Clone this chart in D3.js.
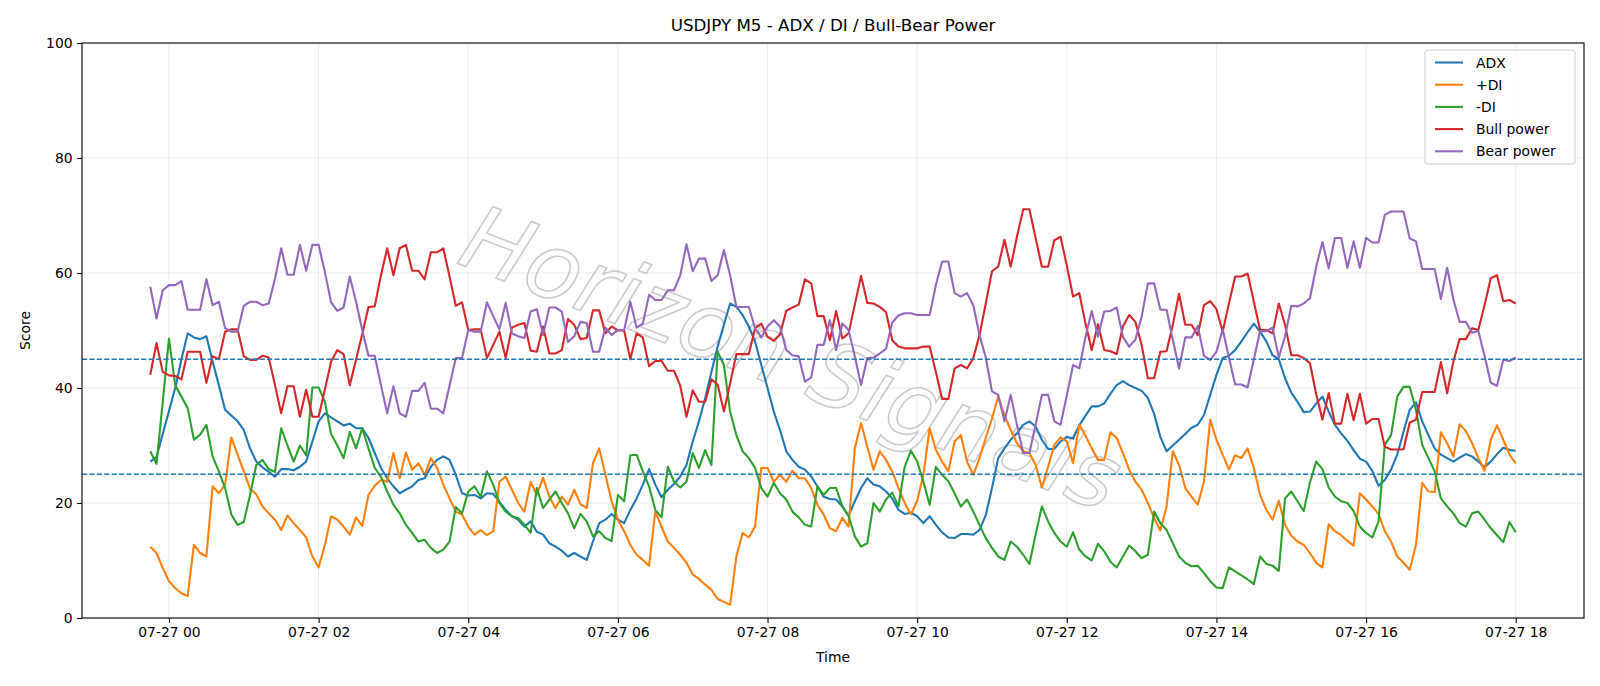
<!DOCTYPE html>
<html>

<head>
    <meta charset="utf-8">
    <title>USDJPY M5 - ADX / DI / Bull-Bear Power</title>
    <style>
        body { margin: 0; background: #fff; }
        text { font-family: "DejaVu Sans", sans-serif; }
    </style>
</head>

<body>
    <script src='https://d3js.org/d3.v7.min.js'></script>
    <script>
    // Data: 5 minute bars from 07-26 23:45 to 07-27 18:00
    const startTime = new Date(2025, 6, 26, 23, 45);
    const stepMinutes = 5;

    const adx = [27.2, 28, 32, 36, 40, 45, 49.5, 48.8, 48.5, 49, 44.6, 40.5, 36.2, 35.2, 34.2, 32.7, 29.5, 27.2,
        26.2, 25.4, 24.6, 25.9, 25.9, 25.7, 26.3, 27.2, 30.7, 34.2, 35.6, 34.9, 34.2, 33.5, 33.8, 33, 33, 31.3, 28.7,
        26.1, 24.3, 22.9, 21.7, 22.3, 22.9, 24, 24.3, 26.3, 27.5, 28.1, 27.5, 24.9, 21.7, 21.3, 21.4, 20.8, 21.7,
        21.6, 20.2, 18.8, 17.7, 17.1, 15.9, 16.8, 15, 14.5, 13, 12.4, 11.7, 10.7, 11.3, 10.7, 10.1, 13.3, 16.5,
        17.1, 18.1, 17.1, 16.5, 18.8, 20.8, 23.2, 25.9, 23.2, 21, 22.3, 23.3, 24.6, 26.6, 30.7, 34.2, 38.2, 42.8, 47.2,
        51, 54.7, 54.1, 52.7, 50.7, 48.1, 44, 40, 35.9, 32.7, 29, 27.5, 26.3, 25.8, 24.6, 22.9, 21.1, 20.7,
        20.6, 19.4, 17.8, 20.3, 22.6, 24.3, 23.2, 22.9, 22, 20.8, 18.8, 18.1, 18.3, 17.7, 16.5, 17.7, 16.2, 14.9, 14,
        13.9, 14.6, 14.6, 14.5, 15.3, 17.9, 22.6, 27.8, 29.5, 31, 32.1, 33.6, 34.2, 33.3, 31, 29.4, 29.4, 30.7,
        31.5, 31.2, 33.5, 35.2, 36.8, 36.8, 37.3, 39, 40.5, 41.2, 40.5, 40, 39.5, 38.3, 35.5, 31.5, 29, 30, 31,
        32, 33.1, 33.6, 35.3, 38.8, 42.3, 45.2, 45.6, 46.6, 48.1, 49.7, 51.2, 49.8, 48.1, 45.7, 45, 41.7, 39.2,
        37.6, 35.8, 35.9, 37.3, 38.5, 35.9, 33.6, 32.1, 30.8, 29.2, 27.7, 27.2, 25.6, 23, 24, 25.8, 28.4, 32.4, 36.2,
        37.5, 34.2, 31.8, 29.5, 28.4, 27.8, 27.2, 27.9, 28.5, 28.1, 27.2, 26.2, 27.2, 28.5, 29.6, 29.2, 29.1];

    const plusDI = [12.4, 11.3, 8.7, 6.4, 5.2, 4.3, 3.8, 12.7, 11.3, 10.7, 22.9, 21.7, 23.2, 31.4, 28.4, 25.5, 22.5, 21.5,
        19.4, 18.2, 17.1, 15.3, 17.8, 16.5, 15.3, 14, 10.7, 8.8, 12.7, 17.7, 17.1, 15.9, 14.5, 17.5, 16, 21.4, 23,
        24, 23.7, 28.7, 24.3, 28.8, 25.8, 26.9, 24.9, 27.8, 26.1, 23.2, 20.8, 18.5, 18, 15.9, 14.5, 15.3, 14.4,
        15.1, 23.7, 24.6, 22.3, 20, 18.5, 23.7, 21.4, 24.4, 21.1, 19.1, 21.1, 19.7, 22.3, 19.8, 19.1, 26.9, 29.5,
        24.9, 20.3, 17.1, 15.1, 12.7, 11, 10.1, 9.1, 18.5, 15.9, 13.3, 12.2, 11, 9.6, 7.6, 6.8, 5.8, 4.9, 3.3,
        2.8, 2.3, 10.7, 14.8, 14, 15.9, 26.1, 26.1, 23.7, 24.9, 23.7, 25.6, 24.3, 24.3, 22.6, 19.7, 18, 15.6,
        15.1, 17.4, 15.9, 29.5, 33.9, 29.8, 25.8, 29, 27.5, 25.5, 22.6, 20, 18, 20.4, 24.9, 33, 29.2, 27.2, 25.5,
        30.7, 31.8, 27.2, 24.9, 27.8, 31.3, 34.7, 38.5, 35.3, 32.7, 30.4, 29, 28.7, 26.6, 22.7, 26.3, 30.1, 31.4,
        30.7, 26.9, 33.7, 31.7, 29.5, 27.5, 27.5, 32.3, 31.3, 28.7, 25.8, 23.7, 22.3, 20, 17.4, 15.2, 19.4, 29, 26.6,
        22.6, 21.1, 19.7, 23.7, 34.5, 31, 28.4, 25.8, 28.3, 27.8, 29.5, 26.1, 21.4, 18.8, 17.1, 20.4, 16.2, 14.3,
        13.3, 12.7, 11.3, 9.6, 8.8, 16.3, 15.1, 14.4, 13.4, 12.6, 21.7, 20.6, 19.4, 18.1, 15.1, 13.3, 10.7, 9.6, 8.4,
        12.7, 23.5, 22, 21.9, 32.3, 30.4, 28.1, 33.7, 32.5, 30.4, 27.8, 25.6, 31, 33.5, 31, 28.4, 26.9];

    const minusDI = [29, 26.8, 37.6, 48.6, 40.5, 38.5, 36.5, 31, 31.9, 33.6, 28.1, 25.5, 22.6, 18, 16.2, 16.7, 21.4, 26.6,
        27.5, 25.9, 25.4, 33, 30, 27.2, 30, 28.3, 40.1, 40.1, 37.6, 32, 30, 27.8, 32.4, 29.5, 33, 29.5, 26.1,
        24.6, 22, 19.7, 18.2, 16.2, 14.8, 13.3, 13.6, 12.2, 11.3, 11.9, 13.3, 19.3, 18.2, 22, 22.9, 21.1, 25.5,
        23.2, 20, 18.5, 17.7, 17.4, 16.2, 14.8, 22.6, 19.1, 20.6, 22, 20, 18.2, 15.6, 18.1, 16.8, 14.2, 15.1,
        13.9, 13.4, 21.4, 20.3, 28.3, 28.4, 25.5, 22.9, 18.8, 17.5, 26.3, 23.7, 22.7, 23.7, 28.7, 26.1, 29.2, 26.6, 46.3,
        44, 35.9, 31.8, 29, 27.8, 26.1, 22.6, 21.1, 23.5, 21.7, 20.6, 18.5, 17.5, 16.2, 15.9, 22.9, 21.4, 22.6,
        22.6, 19.4, 17.7, 14.2, 12.4, 13, 20, 18.5, 20.6, 21.8, 19.4, 26.3, 29.1, 27.2, 23.7, 19.7, 26.3, 24.9, 23.8,
        21.7, 19.4, 20.6, 18.5, 16.2, 13.9, 12.2, 10.7, 10.1, 13.3, 12.4, 11, 9.4, 14.5, 19.4, 16.8, 14.8, 13.3,
        12.4, 14.9, 11.9, 10.7, 10, 12.9, 11.6, 9.8, 8.8, 10.7, 12.6, 11.6, 10.4, 11, 18.5, 16.5, 15.3, 13, 10.7,
        9.6, 9, 9.1, 7.8, 6.4, 5.3, 5.2, 8.8, 8.1, 7.4, 6.7, 5.9, 10.7, 9.4, 9.1, 8.2, 20.8, 22,
        20.3, 18.6, 23.6, 27.2, 25.9, 22.7, 21.1, 20.3, 20, 18.6, 15.9, 14.8, 14, 16.8, 30.1, 31.8, 38.5, 40.2, 40.2,
        36.2, 30.1, 27.8, 25.5, 20.8, 19.4, 18.2, 16.5, 15.9, 18.2, 18.5, 17.1, 15.6, 14.4, 13.2, 16.7, 14.9];

    const bullPower = [42.3, 47.8, 42.8, 42.2, 42.1, 41.5, 46.3, 46.3, 46.3, 40.9, 45.5, 45, 49.8, 50.2, 50.2, 45.5, 44.9, 44.9,
        45.6, 45.3, 40.5, 35.6, 40.3, 40.3, 35, 39.7, 35, 35, 39.7, 44.6, 46.6, 45.9, 40.5, 44.9, 49.4, 54.1, 54.2,
        59.6, 64.3, 59.6, 64.3, 64.9, 60.4, 60.4, 58.9, 63.6, 63.6, 64.3, 59.4, 54.3, 54.9, 50.1, 50.2, 50.2, 45.2,
        47.5, 49.8, 45.2, 50.5, 51, 51.3, 46.5, 46.3, 50.7, 46, 46, 46.6, 52, 51, 48.5, 48.7, 53.5, 53.5,
        49.5, 50.7, 50, 50, 45, 49.5, 48.8, 43.8, 44.7, 44.7, 43, 43, 40.4, 35, 39.6, 37.6, 37.6, 41.5, 40.6,
        35.9, 40.8, 45.9, 45.9, 45.9, 50.4, 51.2, 48.9, 48.2, 49.3, 53.4, 54, 54.5, 58.9, 58.2, 52.5, 52.5, 48.3,
        53.4, 48.6, 49.5, 54.5, 59.5, 54.8, 54.7, 54.1, 53.2, 48.3, 47.2, 46.9, 46.9, 46.9, 47.2, 47.2, 42.8, 38.1, 38.1,
        43.4, 44, 43.4, 45.2, 49.2, 54.7, 60.3, 61.1, 65.8, 61.1, 66.3, 71.1, 71.1, 66.1, 61.1, 61.1, 65.7, 66.3,
        61.3, 55.9, 56.5, 51.2, 46.6, 51.1, 46.6, 46.4, 45.9, 50.7, 52.7, 51.5, 47.5, 41.7, 41.7, 46.3, 46.4, 51, 56.4,
        51, 51, 49.2, 54.4, 55.1, 53.7, 49.8, 54.7, 59.4, 59.4, 59.9, 55, 50.1, 50.1, 49.5, 54.7, 51, 45.7,
        45.7, 45.2, 44.3, 38.9, 34.5, 39.1, 33.8, 33.8, 39, 34.4, 39, 33.8, 34.6, 34.6, 29.8, 29.3, 29.3, 29.3, 34,
        34.5, 39.3, 39.3, 39.3, 44.5, 39.1, 44.6, 48.5, 48.5, 50.4, 50.1, 54.4, 59.1, 59.6, 55.1, 55.3, 54.7];

    const bearPower = [57.6, 52.1, 57, 57.9, 57.9, 58.6, 53.6, 53.6, 53.6, 58.9, 54.4, 55, 50.4, 49.8, 49.8, 54.3, 55, 55,
        54.4, 54.7, 59, 64.3, 59.7, 59.7, 64.9, 60.4, 64.9, 64.9, 60.2, 54.9, 53.4, 54, 59.4, 55, 50.1, 45.6, 45.6,
        40.5, 35.6, 40.3, 35.6, 35, 39.5, 39.5, 40.9, 36.4, 36.4, 35.6, 40.4, 45.2, 45.2, 50.1, 49.8, 49.8, 54.9,
        52.5, 50.2, 54.8, 49.5, 49, 48.7, 53.3, 53.7, 49.2, 54, 54, 53.3, 48, 49, 51.5, 51.3, 46.3, 46.3,
        50.5, 49.2, 50.1, 50.1, 55, 50.5, 51.2, 56.2, 55.3, 55.3, 57, 57, 59.6, 65, 60.3, 62.5, 62.5, 58.6, 59.6,
        64, 59.6, 54.1, 54.1, 54.1, 50.4, 48.8, 50.7, 51.8, 50.7, 46.6, 45.7, 45.5, 41.1, 41.8, 47.5, 47.5, 51.8,
        46.6, 51.2, 50.1, 45.5, 40.5, 45.2, 45.3, 46, 46.8, 51.4, 52.6, 53, 53, 52.7, 52.7, 52.7, 57.9, 62, 62,
        56.5, 55.9, 56.5, 54.4, 49.2, 45.3, 39.4, 38.8, 34.2, 38.8, 33.6, 28.7, 28.7, 33.6, 38.8, 38.8, 34.2, 33.6,
        38.7, 44, 43.4, 48.9, 53.4, 48.9, 53.3, 53.4, 54, 48.9, 47.2, 48.4, 52.4, 58.2, 58.2, 53.6, 53.6, 48.4, 43.4,
        48.8, 48.8, 50.8, 45.6, 44.9, 46.3, 50.2, 45.3, 40.6, 40.6, 40.1, 45, 49.9, 49.9, 50.5, 45.3, 49, 54.3,
        54.2, 54.7, 55.6, 61.1, 65.4, 60.8, 66.1, 66.1, 60.9, 65.5, 60.9, 66.1, 65.3, 65.3, 70.1, 70.7, 70.7, 70.7, 66,
        65.5, 60.7, 60.7, 60.7, 55.5, 60.9, 55.4, 51.5, 51.5, 49.6, 49.9, 45.6, 40.9, 40.4, 44.9, 44.7, 45.3];

    const seriesNames = ["ADX", "+DI", "-DI", "Bull power", "Bear power"];
    const seriesColors = ["#1f77b4", "#ff7f0e", "#2ca02c", "#d62728", "#9467bd"];
    const levels = [45, 25];
    const yTicks = [0, 20, 40, 60, 80, 100];

    const times = adx.map((d, i) => d3.timeMinute.offset(startTime, i * stepMinutes));
    const allSeries = [adx, plusDI, minusDI, bullPower, bearPower];

    // Set Dimensions
    const width = 1600;
    const height = 686;
    const margin = { top: 43, right: 16, bottom: 68, left: 82 };
    const w = width - margin.left - margin.right;
    const h = height - margin.top - margin.bottom;

    const svg = d3.select("body")
        .append("svg")
        .attr("width", width)
        .attr("height", height);

    const g = svg.append("g")
        .attr("transform", "translate(" + margin.left + "," + margin.top + ")");

    // X scale with 5% padding like matplotlib
    const tExtent = d3.extent(times);
    const pad = (tExtent[1] - tExtent[0]) * 0.05;
    const x = d3.scaleTime()
        .domain([new Date(+tExtent[0] - pad), new Date(+tExtent[1] + pad)])
        .range([0, w]);

    const y = d3.scaleLinear()
        .domain([0, 100])
        .range([h, 0]);

    const xTicks = x.ticks(d3.timeHour.every(2));

    // grid
    g.append("g")
        .selectAll("line")
        .data(xTicks)
        .join("line")
        .attr("x1", d => x(d)).attr("x2", d => x(d))
        .attr("y1", 0).attr("y2", h)
        .attr("stroke", "#b0b0b0").attr("stroke-opacity", 0.3).attr("stroke-width", 0.8);
    g.append("g")
        .selectAll("line")
        .data(yTicks)
        .join("line")
        .attr("x1", 0).attr("x2", w)
        .attr("y1", d => y(d)).attr("y2", d => y(d))
        .attr("stroke", "#b0b0b0").attr("stroke-opacity", 0.3).attr("stroke-width", 0.8);

    // watermark
    g.append("text")
        .attr("transform", "translate(" + (789 - margin.left) + "," + (364 - margin.top) + ") rotate(21)")
        .attr("text-anchor", "middle")
        .attr("dominant-baseline", "middle")
        .style("font-size", "90px")
        .style("font-style", "italic")
        .attr("fill", "none")
        .attr("stroke", "#a0a0a0")
        .attr("stroke-opacity", 0.55)
        .attr("stroke-width", 1.6)
        .text("Horizon Signals");

    // lines
    allSeries.forEach((vals, k) => {
        g.append("path")
            .datum(vals)
            .attr("fill", "none")
            .attr("stroke", seriesColors[k])
            .attr("stroke-width", 2.1)
            .attr("stroke-linejoin", "round")
            .attr("d", d3.line()
                .x((d, i) => x(times[i]))
                .y(d => y(d))
            );
    });

    // reference levels
    g.selectAll(".level")
        .data(levels)
        .join("line")
        .attr("class", "level")
        .attr("x1", 0).attr("x2", w)
        .attr("y1", d => y(d)).attr("y2", d => y(d))
        .attr("stroke", "#1f77b4")
        .attr("stroke-width", 1.4)
        .attr("stroke-dasharray", "5.2,2.2");

    // axes
    const xAxis = g.append("g")
        .attr("transform", "translate(0," + h + ")")
        .call(d3.axisBottom(x).tickValues(xTicks).tickFormat(d3.timeFormat("%m-%d %H")).tickSizeOuter(0).tickSize(4.9).tickPadding(4.5));
    const yAxis = g.append("g")
        .call(d3.axisLeft(y).tickValues(yTicks).tickSizeOuter(0).tickSize(4.9).tickPadding(4.5));
    [xAxis, yAxis].forEach(a => {
        a.selectAll("text").style("font-size", "13.9px").attr("fill", "#000");
        a.selectAll("line").attr("stroke", "#000").attr("stroke-width", 1.1);
        a.select(".domain").remove();
    });

    // frame
    g.append("rect")
        .attr("width", w).attr("height", h)
        .attr("fill", "none").attr("stroke", "#000").attr("stroke-width", 1.1);

    // labels
    svg.append("text")
        .attr("x", margin.left + w / 2).attr("y", 31)
        .attr("text-anchor", "middle")
        .style("font-size", "16.7px")
        .text("USDJPY M5 - ADX / DI / Bull-Bear Power");
    svg.append("text")
        .attr("x", margin.left + w / 2).attr("y", 662)
        .attr("text-anchor", "middle")
        .style("font-size", "13.9px")
        .text("Time");
    svg.append("text")
        .attr("transform", "translate(30," + (margin.top + h / 2) + ") rotate(-90)")
        .attr("text-anchor", "middle")
        .style("font-size", "13.9px")
        .text("Score");

    // legend
    const legend = svg.append("g").attr("transform", "translate(1425,50)");
    legend.append("rect")
        .attr("width", 150).attr("height", 114).attr("rx", 3)
        .attr("fill", "#fff").attr("fill-opacity", 0.8)
        .attr("stroke", "#cccccc").attr("stroke-width", 1);
    seriesNames.forEach((name, k) => {
        const yy = 12.5 + k * 22.2;
        legend.append("line")
            .attr("x1", 10).attr("x2", 38)
            .attr("y1", yy).attr("y2", yy)
            .attr("stroke", seriesColors[k]).attr("stroke-width", 2.1);
        legend.append("text")
            .attr("x", 51).attr("y", yy)
            .attr("dominant-baseline", "central")
            .style("font-size", "13.9px")
            .text(name);
    });
    </script>
</body>

</html>
